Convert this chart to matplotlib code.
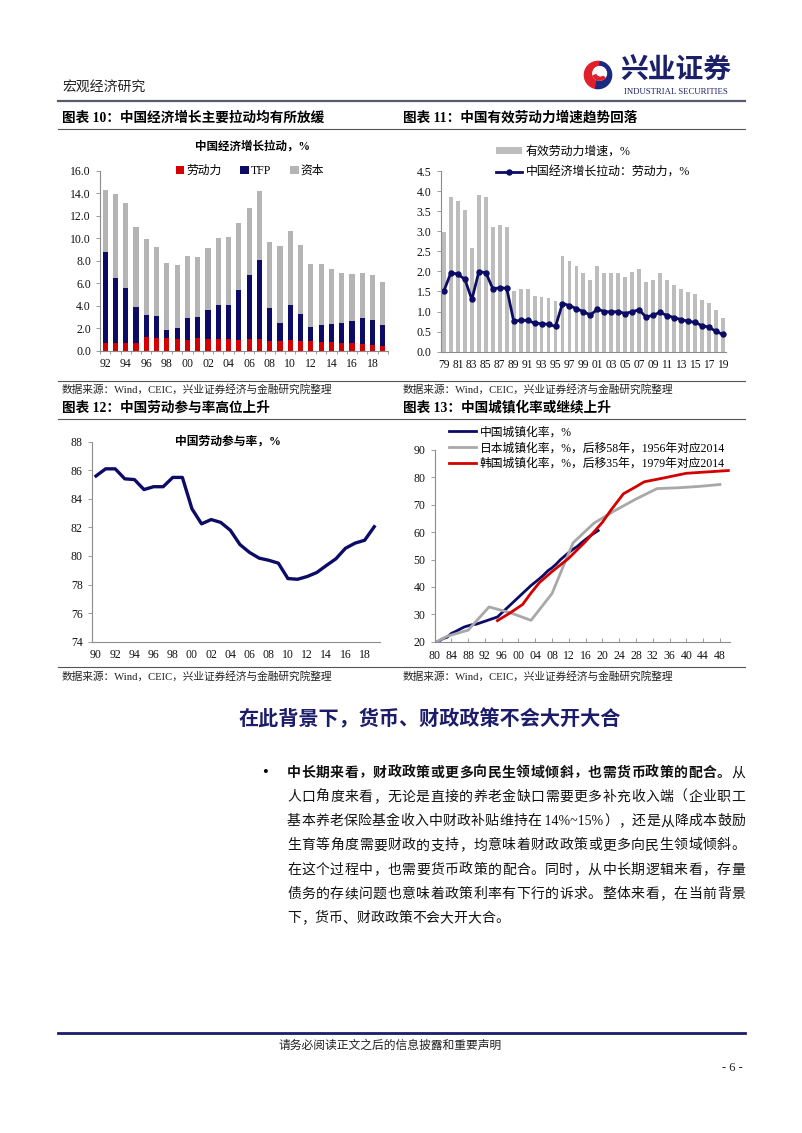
import matplotlib
matplotlib.use("Agg")
import matplotlib.pyplot as plt
import numpy as np
from matplotlib.patches import Wedge, Circle
from matplotlib.lines import Line2D

W, H = 802, 1133
SERIF = ["Liberation Serif", "Noto Sans CJK SC"]
plt.rcParams["font.family"] = SERIF
plt.rcParams["axes.unicode_minus"] = False

NAVY = "#0c0c66"
RED = "#d40000"
GRAY = "#b4b4b4"
AXC = "#8c8c8c"

# ---- 图表10：中国经济增长拉动 ----
years10 = list(range(1992, 2020))
labor10 = [0.7, 0.7, 0.7, 0.7, 1.25, 1.15, 1.1, 1.0, 0.95, 1.1, 1.0, 1.0, 1.0, 0.95,
           1.0, 1.05, 0.85, 0.9, 0.95, 0.9, 0.85, 0.8, 0.75, 0.7, 0.65, 0.6, 0.55, 0.45]
tfp10 = [8.1, 5.75, 4.85, 3.15, 1.95, 1.9, 0.7, 1.05, 2.0, 1.9, 2.6, 3.05, 3.1, 4.45,
         5.7, 7.05, 2.95, 1.55, 3.1, 2.35, 1.25, 1.5, 1.65, 1.8, 2.0, 2.3, 2.15, 1.8]
capital10 = [5.5, 7.5, 7.6, 7.2, 6.75, 6.2, 6.05, 5.6, 5.5, 5.35, 5.55, 6.0, 6.0, 5.95,
             6.0, 6.1, 5.85, 6.85, 6.6, 6.2, 5.65, 5.4, 4.9, 4.4, 4.15, 4.0, 4.05, 3.85]

# ---- 图表11：有效劳动力增速 ----
years11 = list(range(1979, 2020))
eff_labor11 = [2.99, 3.85, 3.75, 3.53, 2.59, 3.9, 3.86, 3.11, 3.16, 3.11,
               1.52, 1.55, 1.56, 1.39, 1.37, 1.33, 1.27, 2.38, 2.27, 2.13,
               1.95, 1.79, 2.13, 1.97, 1.95, 1.97, 1.86, 1.98, 2.07, 1.73,
               1.79, 1.96, 1.78, 1.67, 1.57, 1.48, 1.43, 1.29, 1.21, 1.04, 0.85]
labor_pull11 = [1.52, 1.97, 1.93, 1.8, 1.3, 1.99, 1.97, 1.57, 1.59, 1.58,
                0.76, 0.78, 0.78, 0.71, 0.7, 0.68, 0.63, 1.2, 1.15, 1.07,
                1.0, 0.91, 1.06, 1.0, 0.99, 1.0, 0.95, 1.0, 1.04, 0.86,
                0.91, 0.98, 0.9, 0.85, 0.8, 0.76, 0.73, 0.65, 0.61, 0.51, 0.43]

# ---- 图表12：中国劳动参与率 ----
years12 = list(range(1990, 2020))
lfpr12 = [85.6, 86.1, 86.1, 85.4, 85.35, 84.65, 84.85, 84.85, 85.5, 85.5,
          83.3, 82.25, 82.55, 82.35, 81.8, 80.8, 80.25, 79.85, 79.7, 79.5,
          78.42, 78.37, 78.56, 78.84, 79.33, 79.8, 80.54, 80.9, 81.1, 82.05]

# ---- 图表13：城镇化率 ----
cn_years = list(range(1980, 2020))
cn_urban = [19.39, 20.16, 21.13, 21.62, 23.01, 23.71, 24.52, 25.32, 25.81, 26.21,
            26.41, 26.94, 27.46, 27.99, 28.51, 29.04, 30.48, 31.91, 33.35, 34.78,
            36.22, 37.66, 39.09, 40.53, 41.76, 42.99, 44.34, 45.89, 46.99, 48.34,
            49.95, 51.27, 52.57, 53.73, 54.77, 56.10, 57.35, 58.52, 59.58, 60.60]
jp_years = [1980, 1983, 1988, 1993, 1998, 2003, 2008, 2013, 2018, 2023, 2028, 2033, 2038, 2043, 2048]
jp_urban = [19.6, 22.0, 24.2, 32.7, 30.6, 27.8, 37.6, 56.1, 63.3, 67.9, 72.1, 75.9, 76.2, 76.7, 77.4]
kr_years = [1995, 1998, 2001, 2003, 2005, 2008, 2012, 2016, 2020, 2022, 2025, 2028, 2030,
            2034, 2040, 2045, 2050]
kr_urban = [27.7, 30.5, 33.6, 37.8, 41.6, 45.6, 50.5, 56.6, 63.6, 68.0, 74.0, 76.6, 78.4,
            79.6, 81.5, 82.0, 82.5]

fig = plt.figure(figsize=(W / 100, H / 100), dpi=100)


def fx(x):
    return x / W


def fy(y):
    return 1 - y / H


def axes_px(l, t, r, b):
    return fig.add_axes([fx(l), fy(b), (r - l) / W, (b - t) / H])


def hline(y, x0=58, x1=745, lw=0.8, color="#555555"):
    fig.add_artist(Line2D([fx(x0), fx(x1)], [fy(y), fy(y)], lw=lw, color=color,
                          transform=fig.transFigure))


def txt(x, y, s, **kw):
    kw.setdefault("va", "center")
    return fig.text(fx(x), fy(y), s, **kw)


def style(ax):
    for s in ("top", "right"):
        ax.spines[s].set_visible(False)
    for s in ("left", "bottom"):
        ax.spines[s].set_color(AXC)
        ax.spines[s].set_linewidth(0.8)
    ax.tick_params(labelsize=8.5, colors=AXC, labelcolor="#111111", length=3, width=0.6)


# ---------- 页眉 ----------
txt(62, 87, "宏观经济研究", fontsize=10, color="#222222")
lg = axes_px(583, 60, 613, 90)
lg.set_xlim(-1.1, 1.1)
lg.set_ylim(-1.1, 1.1)
lg.axis("off")
lg.add_patch(Wedge((0, 0), 1.0, 80, 260, color="#e0202a"))
lg.add_patch(Wedge((0, 0), 1.0, -100, 80, color="#1b2a80"))
lg.add_patch(Circle((0.12, 0.12), 0.5, color="white"))
lg.add_patch(Wedge((0.12, 0.12), 0.5, 200, 320, color="#e0202a"))
lg.add_patch(Circle((0.18, 0.22), 0.28, color="white"))
txt(676, 72, "兴业证券", fontsize=20, weight="bold", color="#1b2068", ha="center")
txt(676, 92, "INDUSTRIAL SECURITIES", fontsize=6.3, color="#1b2068", ha="center")
hline(101, lw=1.6, color="#5a5a6e")

# ---------- 图表标题 ----------
txt(62, 118, "图表 10：中国经济增长主要拉动均有所放缓", fontsize=9.8, weight="bold")
txt(403, 118, "图表 11：中国有效劳动力增速趋势回落", fontsize=9.8, weight="bold")
hline(129)
hline(381)
src = "数据来源：Wind，CEIC，兴业证券经济与金融研究院整理"
txt(62, 389, src, fontsize=7.7, color="#222222")
txt(403, 389, src, fontsize=7.7, color="#222222")
txt(62, 408, "图表 12：中国劳动参与率高位上升", fontsize=9.8, weight="bold")
txt(403, 408, "图表 13：中国城镇化率或继续上升", fontsize=9.8, weight="bold")
hline(419)
hline(667)
txt(62, 676, src, fontsize=7.7, color="#222222")
txt(403, 676, src, fontsize=7.7, color="#222222")

# ---------- 图表10 ----------
ax = axes_px(100, 171, 388, 350.7)
x10 = np.arange(len(years10))
ax.bar(x10, labor10, width=0.5, color=RED, label="劳动力")
ax.bar(x10, tfp10, width=0.5, bottom=labor10, color=NAVY, label="TFP")
ax.bar(x10, capital10, width=0.5, bottom=np.add(labor10, tfp10), color=GRAY, label="资本")
ax.set_xlim(-0.5, len(x10) - 0.5)
ax.set_ylim(0, 16)
ax.set_yticks(np.arange(0, 16.1, 2))
ax.set_yticklabels([f"{v:.1f}" for v in np.arange(0, 16.1, 2)])
ax.set_xticks(x10[::2])
ax.set_xticklabels([f"{y % 100:02d}" for y in years10[::2]])
ax.set_xticks(np.arange(-0.5, len(x10), 1), minor=True)
style(ax)
ax.tick_params(axis="x", which="major", length=0, pad=5)
ax.tick_params(axis="x", which="minor", length=2, colors=AXC)
ax.legend(loc="upper center", bbox_to_anchor=(fx(250), fy(159)), bbox_transform=fig.transFigure,
          ncol=3, frameon=False, fontsize=8.5, handlelength=0.7, handleheight=0.7,
          handletextpad=0.2, columnspacing=1.6, borderpad=0)
txt(252, 147, "中国经济增长拉动，%", fontsize=8.3, weight="bold", ha="center")

# ---------- 图表11 ----------
ax = axes_px(440.5, 171, 726.3, 351.7)
x11 = np.arange(len(years11))
bars11 = ax.bar(x11, eff_labor11, width=0.55, color="#bdbdbd", label="有效劳动力增速，%")
line11, = ax.plot(x11, labor_pull11, color=NAVY, lw=2, marker="o", ms=3.6,
                  label="中国经济增长拉动：劳动力，%")
ax.set_xlim(-0.5, len(x11) - 0.5)
ax.set_ylim(0, 4.5)
ax.set_yticks(np.arange(0, 4.51, 0.5))
ax.set_yticklabels([f"{v:.1f}" for v in np.arange(0, 4.51, 0.5)])
ax.set_xticks(x11[::2])
ax.set_xticklabels([f"{y % 100:02d}" for y in years11[::2]])
style(ax)
ax.tick_params(axis="x", length=0, pad=5)
ax.tick_params(axis="x", labelsize=8.3)
ax.legend(handles=[bars11, line11], loc="upper left", bbox_to_anchor=(fx(490), fy(140)),
          bbox_transform=fig.transFigure, frameon=False, fontsize=8.6, handlelength=2.2,
          handleheight=0.5, handletextpad=0.3, labelspacing=0.75, borderpad=0)

# ---------- 图表12 ----------
ax = axes_px(91.7, 441.7, 380, 641.7)
ax.plot(years12, lfpr12, color=NAVY, lw=2.4)
ax.set_xlim(1989.55, 2019.6)
ax.set_ylim(74, 88)
ax.set_yticks(range(74, 89, 2))
ax.set_xticks(range(1990, 2019, 2))
ax.set_xticklabels([f"{y % 100:02d}" for y in range(1990, 2019, 2)])
style(ax)
ax.tick_params(axis="x", length=0, pad=5)
txt(228, 442, "中国劳动参与率，%", fontsize=8.5, weight="bold", ha="center")

# ---------- 图表13 ----------
ax = axes_px(434.5, 450, 730, 641.7)
ax.plot(cn_years, cn_urban, color=NAVY, lw=2, label="中国城镇化率，%")
ax.plot(jp_years, jp_urban, color="#a8a8a8", lw=2,
        label="日本城镇化率，%，后移58年，1956年对应2014")
ax.plot(kr_years, kr_urban, color=RED, lw=2,
        label="韩国城镇化率，%，后移35年，1979年对应2014")
ax.set_xlim(1980, 2050.4)
ax.set_ylim(20, 90)
ax.set_yticks(range(20, 91, 10))
ax.set_xticks(range(1980, 2049, 4))
ax.set_xticklabels([f"{y % 100:02d}" for y in range(1980, 2049, 4)])
style(ax)
ax.tick_params(axis="x", direction="in", pad=6)
ax.legend(loc="upper left", bbox_to_anchor=(fx(443), fy(420.5)), bbox_transform=fig.transFigure,
          frameon=False, fontsize=8.5, handlelength=2.3, handletextpad=0.3,
          labelspacing=0.32, borderpad=0)

# ---------- 正文 ----------
txt(430, 720, "在此背景下，货币、财政政策不会大开大合", fontsize=14.5, weight="bold",
    color="#1c1c6b", ha="center")

renderer = fig.canvas.get_renderer()
SIZE = 10
EM = SIZE * 100 / 72


def justified(y, segments, x0=287, x1=745, justify=True):
    toks = []
    for s, w in segments:
        buf = ""
        for ch in s:
            if ord(ch) < 128:
                buf += ch
            else:
                if buf:
                    toks.append((buf, w))
                    buf = ""
                toks.append((ch, w))
        if buf:
            toks.append((buf, w))
    arts, widths = [], []
    for t, w in toks:
        a = txt(0, y, t, fontsize=SIZE, weight=w, color="#111111")
        arts.append(a)
        if all(ord(c) >= 128 for c in t):
            widths.append(EM)
        else:
            widths.append(a.get_window_extent(renderer).width)
    gap = (x1 - x0 - sum(widths)) / (len(toks) - 1) if justify else 0
    xx = x0
    for a, wd in zip(arts, widths):
        a.set_x(fx(xx))
        xx += wd + gap


txt(262, 773, "•", fontsize=12)
lines = [
    [("中长期来看，财政政策或更多向民生领域倾斜，也需货币政策的配合。", "bold"), ("从", "normal")],
    [("人口角度来看，无论是直接的养老金缺口需要更多补充收入端（企业职工", "normal")],
    [("基本养老保险基金收入中财政补贴维持在 14%~15%），还是从降成本鼓励", "normal")],
    [("生育等角度需要财政的支持，均意味着财政政策或更多向民生领域倾斜。", "normal")],
    [("在这个过程中，也需要货币政策的配合。同时，从中长期逻辑来看，存量", "normal")],
    [("债务的存续问题也意味着政策利率有下行的诉求。整体来看，在当前背景", "normal")],
    [("下，货币、财政政策不会大开大合。", "normal")],
]
for i, seg in enumerate(lines):
    justified(773 + i * 24.3, seg, justify=(i < len(lines) - 1))

# ---------- 页脚 ----------
hline(1033, lw=2, color="#1c1c6b")
txt(390, 1046, "请务必阅读正文之后的信息披露和重要声明", fontsize=8.5, ha="center", color="#222222")
txt(732, 1068, "- 6 -", fontsize=9, ha="center", color="#222222")

fig.savefig("out.png", dpi=100)
